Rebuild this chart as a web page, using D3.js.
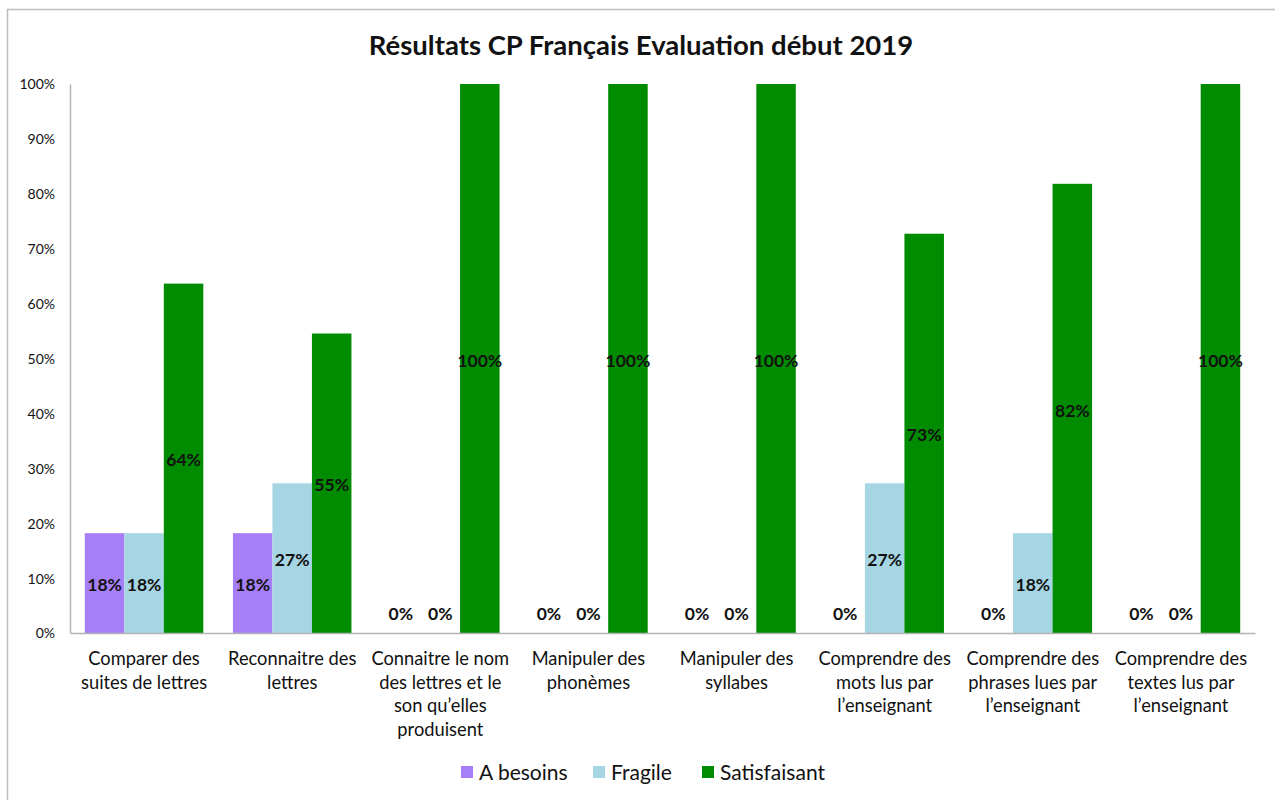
<!DOCTYPE html>
<html>
<head>
<meta charset="utf-8">
<script src="https://cdn.jsdelivr.net/npm/d3@7"></script>
<style>
  body { margin: 0; background: #fff; }
  svg text { font-family: Lato, "Open Sans", sans-serif; fill: #111; }
</style>
</head>
<body>
<div id="chart"></div>
<script>
const categories = [
  ["Comparer des", "suites de lettres"],
  ["Reconnaitre des", "lettres"],
  ["Connaitre le nom", "des lettres et le", "son qu\u2019elles", "produisent"],
  ["Manipuler des", "phonèmes"],
  ["Manipuler des", "syllabes"],
  ["Comprendre des", "mots lus par", "l\u2019enseignant"],
  ["Comprendre des", "phrases lues par", "l\u2019enseignant"],
  ["Comprendre des", "textes lus par", "l\u2019enseignant"]
];
const seriesNames = ["A besoins", "Fragile", "Satisfaisant"];
const aBesoins = [0.1818, 0.1818, 0, 0, 0, 0, 0, 0];
const fragile = [0.1818, 0.2727, 0, 0, 0, 0.2727, 0.1818, 0];
const satisfaisant = [0.6364, 0.5455, 1, 1, 1, 0.7273, 0.8182, 1];
const yTicks = [0, 0.1, 0.2, 0.3, 0.4, 0.5, 0.6, 0.7, 0.8, 0.9, 1];
const colors = ["#a67ff8", "#a6d5e4", "#008c00"];

const values = [aBesoins, fragile, satisfaisant];

const svg = d3.select("#chart")
  .append("svg")
  .attr("width", 1275)
  .attr("height", 800);

// outer frame
svg.append("rect")
  .attr("x", 7.5).attr("y", 9.5)
  .attr("width", 1400).attr("height", 900)
  .attr("fill", "none")
  .attr("stroke", "#bdbdbd")
  .attr("stroke-width", 1.5);

svg.append("text")
  .attr("x", 641)
  .attr("y", 55)
  .attr("text-anchor", "middle")
  .attr("font-size", 27.5)
  .attr("font-weight", "bold")
  .text("Résultats CP Français Evaluation début 2019");

const x = d3.scaleBand()
  .domain(d3.range(categories.length))
  .range([70, 1255]);

const xs = d3.scaleBand()
  .domain(seriesNames)
  .range([0, x.bandwidth()])
  .paddingInner(0)
  .paddingOuter(0.375);

const y = d3.scaleLinear()
  .domain([0, 1])
  .range([633, 84]);

// y axis
const yAxis = svg.append("g")
  .attr("transform", "translate(70,0)")
  .call(d3.axisLeft(y).tickValues(yTicks).tickFormat(d3.format(".0%")).tickSize(0).tickPadding(15));
yAxis.select(".domain").attr("stroke", "#b3b3b3").attr("stroke-width", 1.5);
yAxis.selectAll("text").attr("font-size", 14).attr("dy", "0.35em");

// bars
seriesNames.forEach((name, si) => {
  svg.append("g")
    .selectAll("rect")
    .data(values[si])
    .join("rect")
    .attr("x", (d, i) => x(i) + xs(name))
    .attr("y", d => y(d))
    .attr("width", xs.bandwidth())
    .attr("height", d => y(0) - y(d))
    .attr("fill", colors[si]);
});

// x axis line
const xAxis = svg.append("g")
  .attr("transform", "translate(0,633)")
  .call(d3.axisBottom(x).tickSize(0).tickFormat(""));
xAxis.select(".domain").attr("stroke", "#b3b3b3").attr("stroke-width", 1.5);

// category labels
categories.forEach((lines, i) => {
  const t = svg.append("text")
    .attr("x", x(i) + x.bandwidth() / 2)
    .attr("y", 665)
    .attr("text-anchor", "middle")
    .attr("font-size", 18.3);
  lines.forEach((ln, k) => {
    t.append("tspan")
      .attr("x", x(i) + x.bandwidth() / 2)
      .attr("dy", k === 0 ? 0 : 23.6)
      .text(ln);
  });
});

// data labels
seriesNames.forEach((name, si) => {
  svg.append("g")
    .selectAll("text")
    .data(values[si])
    .join("text")
    .attr("x", (d, i) => x(i) + xs(name) + xs.bandwidth() / 2)
    .attr("y", d => d === 0 ? y(0) - 19 : (y(d) + y(0)) / 2 + 2)
    .attr("dy", "0.35em")
    .attr("text-anchor", "middle")
    .attr("font-size", 17.5)
    .attr("font-weight", "bold")
    .text(d => d3.format(".0%")(d));
});

// legend
const legend = svg.append("g");
const legX = [461, 593, 702];
seriesNames.forEach((name, si) => {
  legend.append("rect")
    .attr("x", legX[si])
    .attr("y", 766)
    .attr("width", 12)
    .attr("height", 12)
    .attr("fill", colors[si]);
  legend.append("text")
    .attr("x", legX[si] + 18)
    .attr("y", 780)
    .attr("font-size", 21)
    .text(name);
});
</script>
</body>
</html>
